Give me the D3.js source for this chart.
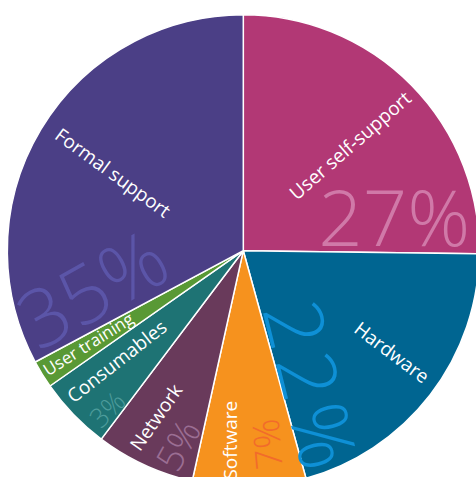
<!DOCTYPE html>
<html>
<head>
<meta charset="utf-8">
<script src="https://cdn.jsdelivr.net/npm/d3@7"></script>
<style>
  html, body { margin: 0; padding: 0; background: #fff; overflow: hidden; }
  svg { display: block; }
  text { font-family: "Open Sans", "Noto Sans", sans-serif; }
</style>
</head>
<body>
<svg id="drawing_region"></svg>
<script>
// slices, clockwise from 12 o'clock
const categories = ["User self-support", "Hardware", "Software", "Network", "Consumables", "User training", "Formal support"];
// share of the circle each slice takes in the drawing (%)
const shares = [25.2, 20.5, 7.75, 6.8, 5.0, 1.9, 32.8];
// percentage printed on each slice (User training has none)
const percentLabels = [27, 22, 7, 5, 3, null, 35];

const sliceColors = ["#b23875", "#006591", "#f6921e", "#693a5b", "#1e7374", "#599935", "#4b3f86"];
const percentColors = ["#d079a8", "#0e90d6", "#f26b2b", "#9b6e93", "#4d9c9b", null, "#5b55a8"];

// label placement: position along slice (0..1), radius, rotation, size
const nameLayout = [
    {f: 0.50, r: 150, rot: -41, size: 19},
    {f: 0.455, r: 180, rot: 37, size: 19},
    {f: 0.70, r: 190, rot: -90, size: 19},
    {f: 0.62, r: 188, rot: -55, size: 19},
    {f: 0.66, r: 168, rot: -38, size: 19},
    {f: 0.59, r: 181, rot: -32, size: 17},
    {f: 0.50, r: 152, rot: 36, size: 19}
];
const pctLayout = [
    {f: 0.847, r: 155, rot: 0, size: 78, ls: 0},
    {f: 0.839, r: 154, rot: 76, size: 80, ls: 7},
    {f: 0.31, r: 195, rot: -95, size: 37, ls: 0},
    {f: 0.257, r: 205, rot: -61, size: 37, ls: 0},
    {f: 0.21, r: 209, rot: -45, size: 27, ls: 0},
    null,
    {f: 0.125, r: 156, rot: -29, size: 80, ls: 0}
];

const config = {
    width: 476,
    height: 477,
    cx: 243.3,
    cy: 250.7,
    radius: 236
};

const data = categories.map((c, i) => ({
    name: c,
    share: shares[i],
    pct: percentLabels[i],
    color: sliceColors[i],
    pctColor: percentColors[i],
    nameL: nameLayout[i],
    pctL: pctLayout[i]
}));

const svg = d3.select('#drawing_region')
    .attr('width', config.width)
    .attr('height', config.height);

const chart = svg.append('g')
    .attr('transform', `translate(${config.cx}, ${config.cy})`);

const pie = d3.pie()
    .sort(null)
    .value(d => d.share);

const arc = d3.arc()
    .innerRadius(0)
    .outerRadius(config.radius);

const arcs = pie(data);

chart.selectAll('path')
    .data(arcs)
    .enter()
    .append('path')
    .attr('d', arc)
    .attr('fill', d => d.data.color)
    .attr('stroke', '#fff')
    .attr('stroke-width', 1.5)
    .attr('stroke-linejoin', 'round');

// point at a fraction of the slice's angle, at radius r
function polar(d, f, r) {
    const a = d.startAngle + f * (d.endAngle - d.startAngle);
    return [r * Math.sin(a), -r * Math.cos(a)];
}

// big percentages (drawn first, names on top)
chart.selectAll('text.pct')
    .data(arcs.filter(d => d.data.pct !== null))
    .enter()
    .append('text')
    .attr('class', 'pct')
    .attr('transform', d => {
        const p = polar(d, d.data.pctL.f, d.data.pctL.r);
        return `translate(${p[0]}, ${p[1]}) rotate(${d.data.pctL.rot})`;
    })
    .attr('text-anchor', 'middle')
    .attr('dominant-baseline', 'central')
    .attr('font-size', d => d.data.pctL.size)
    .attr('letter-spacing', d => d.data.pctL.ls)
    .attr('font-weight', 360)
    .attr('fill', d => d.data.pctColor)
    .text(d => d.data.pct + '%');

chart.selectAll('text.name')
    .data(arcs)
    .enter()
    .append('text')
    .attr('class', 'name')
    .attr('transform', d => {
        const p = polar(d, d.data.nameL.f, d.data.nameL.r);
        return `translate(${p[0]}, ${p[1]}) rotate(${d.data.nameL.rot})`;
    })
    .attr('text-anchor', 'middle')
    .attr('dominant-baseline', 'central')
    .attr('font-size', d => d.data.nameL.size)
    .attr('fill', '#fff')
    .text(d => d.data.name);
</script>
</body>
</html>
